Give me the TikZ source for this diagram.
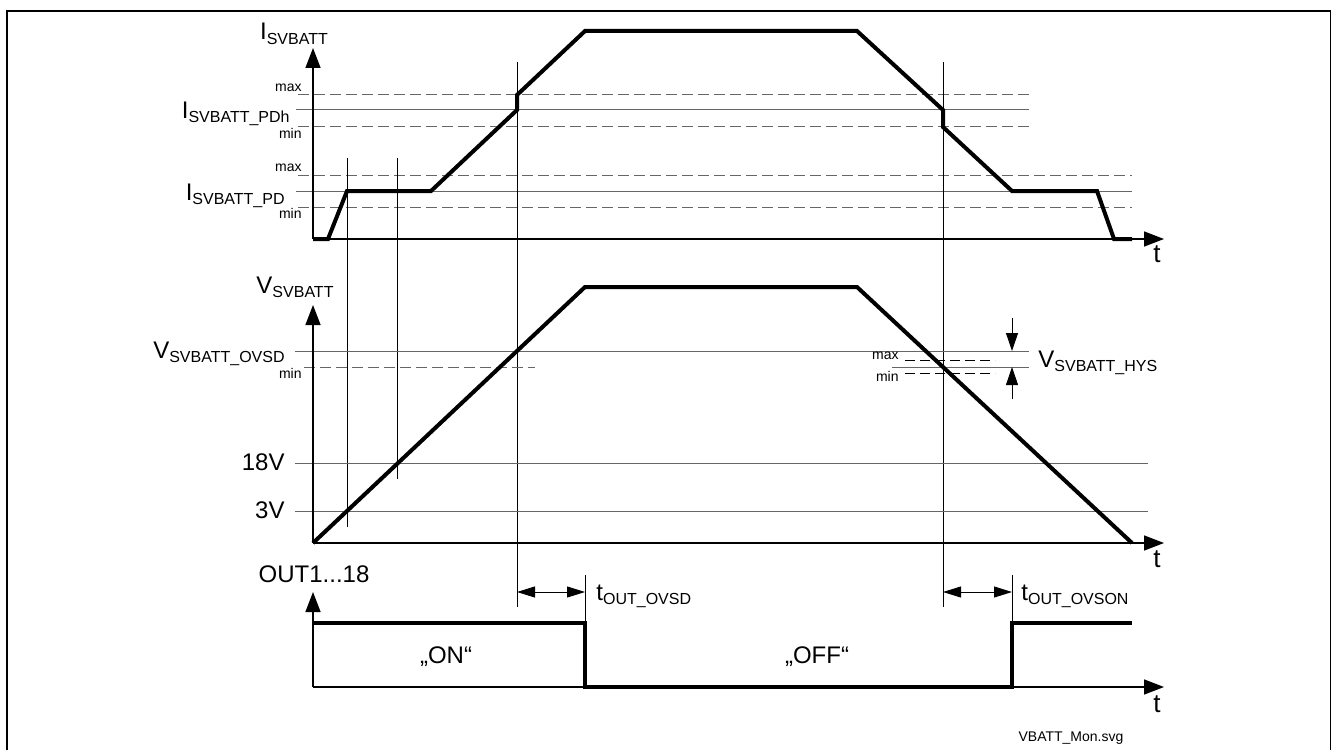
\documentclass[tikz,border=0pt]{standalone}
\usepackage{fontspec}
\setmainfont{Liberation Sans}
\usetikzlibrary{arrows.meta}
\tikzset{
  sig/.style={line width=2pt, line join=miter},
  axis/.style={line width=0.75pt, -{Triangle[length=10pt,width=7.5pt]}},
  refl/.style={line width=0.5pt, draw=black!60},
  refd/.style={line width=0.5pt, draw=black!60, dash pattern=on 5.5pt off 2.5pt},
  refdk/.style={line width=0.5pt, draw=black, dash pattern=on 5pt off 2.5pt},
  vline/.style={line width=0.45pt, draw=black},
  dimarr/.style={line width=0.45pt, {Triangle[length=9pt,width=5.5pt]}-{Triangle[length=9pt,width=5.5pt]}},
  hysarr/.style={line width=0.45pt, -{Triangle[length=9pt,width=6pt]}},
  lbl/.style={font=\fontsize{12}{14}\selectfont, inner sep=0pt},
  sml/.style={font=\fontsize{7}{8}\selectfont, inner sep=0pt},
  tl/.style={font=\fontsize{13}{15}\selectfont, inner sep=0pt},
}
\newcommand\sbs[1]{\raisebox{-2pt}{\fontsize{8}{9}\selectfont #1}}
\begin{document}
\begin{tikzpicture}[x=0.5pt,y=-0.5pt]
\useasboundingbox (0,0) rectangle (1332,749);
\clip (0,0) rectangle (1332,749);
\draw[line width=0.8pt] (7,770) -- (7,11) -- (1330.5,11) -- (1330.5,770);

% ---------- top plot: I_SVBATT ----------
\draw[refd] (298,95) -- (1029,95);
\draw[refl] (296,110) -- (1029,110);
\draw[refd] (298,127) -- (1029,127);
\draw[refd] (298,175) -- (1132,175);
\draw[refl] (296,191) -- (1132,191);
\draw[refd] (298,207) -- (1132,207);

\draw[vline] (347,158) -- (347,527);
\draw[vline] (397,158) -- (397,479);
\draw[vline] (517,62) -- (517,607);
\draw[vline] (943,62) -- (943,607);

\coordinate (o1) at (313,239);
\coordinate (y1) at (313,48);
\coordinate (x1) at (1164,239);
\draw[axis] (o1) -- (y1);
\draw[axis] (o1) -- (x1);
\draw[sig] (313,239) -- (328,239) -- (347,191) -- (431,191) -- (517,110) -- (517,95)
  -- (585,31) -- (857,31) -- (943,110) -- (943,127) -- (1012,191) -- (1097,191)
  -- (1114,239) -- (1132,239);

\node[lbl, anchor=base] (isv) at (294,40) {I\sbs{SVBATT}};
\node[sml, anchor=base east] (max1) at (302,91) {max};
\node[lbl, anchor=base east] (ipdh) at (290,119) {I\sbs{SVBATT\_PDh}};
\node[sml, anchor=base east] (min1) at (302,139) {min};
\node[sml, anchor=base east] (max2) at (302,171) {max};
\node[lbl, anchor=base east] (ipd) at (285,200) {I\sbs{SVBATT\_PD}};
\node[sml, anchor=base east] (min2) at (302,218) {min};
\node[tl, anchor=base] (t1) at (1157,262) {t};

% ---------- middle plot: V_SVBATT ----------
\draw[refl] (295,351) -- (1029,351);
\draw[refd] (304,367) -- (535,367);
\draw[refl] (892,367) -- (1029,367);
\draw[refdk] (905,360) -- (995,360);
\draw[refdk] (905,373) -- (995,373);
\draw[refl] (295,463) -- (1148,463);
\draw[refl] (295,511) -- (1148,511);

\coordinate (o2) at (313,543);
\coordinate (y2) at (313,305);
\coordinate (x2) at (1164,543);
\draw[axis] (o2) -- (y2);
\draw[axis] (o2) -- (x2);
\draw[sig] (313,543) -- (585,287) -- (857,287) -- (1132,543);

\coordinate (h1) at (1012,318);
\coordinate (h2) at (1012,351);
\coordinate (h3) at (1012,399);
\coordinate (h4) at (1012,367);
\draw[hysarr] (h1) -- (h2);
\draw[hysarr] (h3) -- (h4);

\node[lbl, anchor=base] (vsv) at (295,293) {V\sbs{SVBATT}};
\node[lbl, anchor=base east] (vovsd) at (285,358) {V\sbs{SVBATT\_OVSD}};
\node[sml, anchor=base east] (min3) at (302,378) {min};
\node[lbl, anchor=base east] (v18) at (285,470) {18V};
\node[lbl, anchor=base east] (v3) at (285,518) {3V};
\node[sml, anchor=base east] (max4) at (899,359) {max};
\node[sml, anchor=base east] (min4) at (899,381) {min};
\node[lbl, anchor=base west] (vhys) at (1038,367) {V\sbs{SVBATT\_HYS}};
\node[tl, anchor=base] (t2) at (1157,567) {t};

% ---------- bottom plot: OUT ----------
\coordinate (o3) at (313,687);
\coordinate (y3) at (313,592);
\coordinate (x3) at (1164,687);
\draw[axis] (o3) -- (y3);
\draw[axis] (o3) -- (x3);
\draw[sig] (313,623) -- (585,623) -- (585,687) -- (1012,687) -- (1012,623) -- (1132,623);

\draw[vline] (585,575) -- (585,623);
\draw[vline] (1012,575) -- (1012,623);
\coordinate (d1a) at (517,592);
\coordinate (d1b) at (585,592);
\coordinate (d2a) at (943,592);
\coordinate (d2b) at (1012,592);
\draw[dimarr] (d1a) -- (d1b);
\draw[dimarr] (d2a) -- (d2b);

\node[lbl, anchor=base] (out) at (314,582) {OUT1...18};
\node[lbl, anchor=base west] (tovsd) at (596,600) {t\sbs{OUT\_OVSD}};
\node[lbl, anchor=base west] (tovson) at (1021,600) {t\sbs{OUT\_OVSON}};
\node[lbl, anchor=base] (on) at (446,663) {„ON“};
\node[lbl, anchor=base] (off) at (817,663) {„OFF“};
\node[tl, anchor=base] (t3) at (1157,712) {t};
\node[sml, anchor=base] (fn) at (1071,741) {VBATT\_Mon.svg};
\end{tikzpicture}
\end{document}
